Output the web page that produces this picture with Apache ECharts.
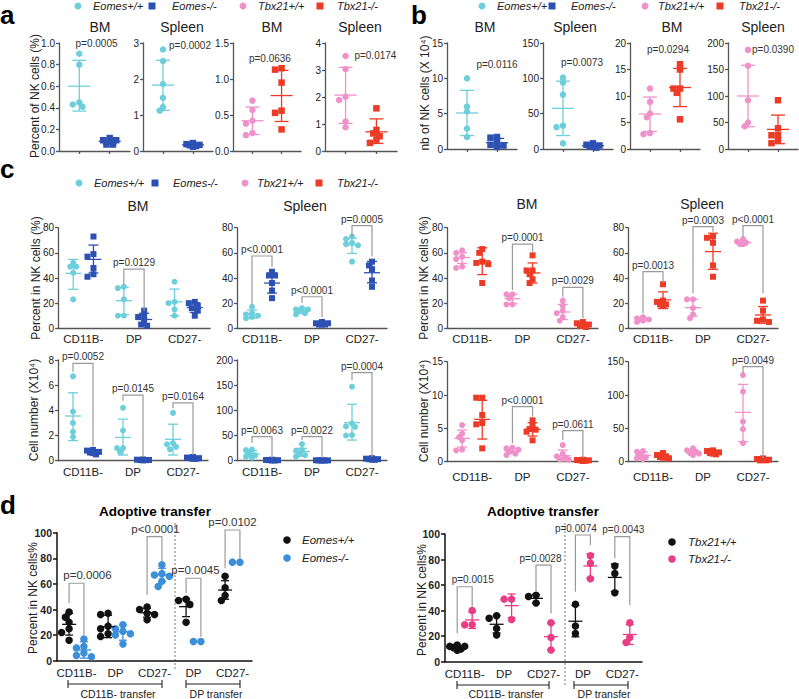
<!DOCTYPE html>
<html><head><meta charset="utf-8">
<script src="https://cdn.jsdelivr.net/npm/echarts@6/dist/echarts.min.js"></script>
<style>html,body{margin:0;padding:0;background:#fff}#c{width:799px;height:699px}</style>
</head><body><div id="c"></div>
<script>
// ---------------- DATA ----------------
// Panel a: Percent of NK cells (%)
const aBM_EomesWT = [0.90, 0.80, 0.45, 0.43, 0.41];
const aBM_EomesKO = [0.12, 0.10, 0.10, 0.09, 0.06, 0.06];
const aSp_EomesWT = [2.82, 2.50, 1.86, 1.48, 1.22, 1.12];
const aSp_EomesKO = [0.22, 0.19, 0.17, 0.16, 0.14, 0.12];
const aBM_TbxWT = [0.70, 0.57, 0.42, 0.38, 0.25, 0.22];
const aBM_TbxKO = [1.15, 1.13, 0.95, 0.56, 0.53, 0.30];
const aSp_TbxWT = [3.52, 3.03, 2.01, 1.89, 1.09, 0.88];
const aSp_TbxKO = [1.58, 0.78, 0.65, 0.55, 0.42, 0.30];
// mean, lower (mean-SD), upper (mean+SD)
const aBM_EomesWT_sd = [0.60, 0.37, 0.84];
const aBM_EomesKO_sd = [0.09, 0.065, 0.115];
const aSp_EomesWT_sd = [1.83, 1.13, 2.52];
const aSp_EomesKO_sd = [0.17, 0.135, 0.205];
const aBM_TbxWT_sd = [0.42, 0.23, 0.61];
const aBM_TbxKO_sd = [0.77, 0.41, 1.12];
const aSp_TbxWT_sd = [2.07, 1.02, 3.10];
const aSp_TbxKO_sd = [0.71, 0.28, 1.19];
const aPvalues = ['p=0.0005', 'p=0.0002', 'p=0.0636', 'p=0.0174'];

// Panel b: nb of NK cells (X 10^4)
const bBM_EomesWT = [10.0, 6.0, 5.3, 2.9, 1.7];
const bBM_EomesKO = [1.7, 1.6, 0.9, 0.6, 0.5, 0.3];
const bSp_EomesWT = [101, 94, 77, 33, 31, 8];
const bSp_EomesKO = [8, 6, 5, 4, 3, 2];
const bBM_TbxWT = [11.4, 8.9, 6.7, 6.0, 3.0, 2.8];
const bBM_TbxKO = [16.0, 15.0, 11.4, 11.4, 10.6, 5.6];
const bSp_TbxWT = [187, 157, 92, 50, 43];
const bSp_TbxKO = [92, 39, 26, 26, 17, 11];
const bBM_EomesWT_sd = [5.1, 1.9, 8.3];
const bBM_EomesKO_sd = [0.9, 0.35, 1.5];
const bSp_EomesWT_sd = [57.5, 19, 96];
const bSp_EomesKO_sd = [4.7, 2.5, 6.9];
const bBM_TbxWT_sd = [6.6, 3.3, 9.8];
const bBM_TbxKO_sd = [11.6, 8.0, 15.2];
const bSp_TbxWT_sd = [100, 42, 158];
const bSp_TbxKO_sd = [37, 10, 64];
const bPvalues = ['p=0.0116', 'p=0.0073', 'p=0.0294', 'p=0.0390'];

// Panel c
const cCategories = ['CD11B-', 'DP', 'CD27-'];
// Percent in NK cells (%), BM, Eomes
const cPctBM_EomesWT = [[52, 49, 49, 44, 23], [33, 32, 23, 10, 10], [37, 21, 20, 15, 10]];
const cPctBM_EomesKO = [[73, 59, 57, 48, 43, 41], [14, 10, 9, 6, 3, 2], [21, 20, 18, 16, 14, 10]];
const cPctBM_EomesWT_sd = [[43.7, 31, 54.8], [22, 11, 32.5], [21, 10, 31.2]];
const cPctBM_EomesKO_sd = [[54.8, 44, 66.2], [7, 2.7, 11.9], [16.5, 12.6, 20.4]];
const cPctBM_Eomes_br = [[1, 47.1, 34.4, 13.8]];
const cPctBM_Eomes_p = ['p=0.0129'];
// Percent, Spleen, Eomes
const cPctSp_EomesWT = [[17, 12, 11, 10, 9, 8], [16, 15, 15, 14, 12, 11], [73, 71, 68, 67, 66, 53]];
const cPctSp_EomesKO = [[45, 42, 42, 36, 30, 24], [5, 4, 4, 3, 3, 3], [53, 50, 47, 38, 33]];
const cPctSp_EomesWT_sd = [[11.2, 8, 14.5], [13.8, 11.8, 15.8], [66.3, 59.6, 71.5]];
const cPctSp_EomesKO_sd = [[36, 28, 44], [3.7, 2.9, 4.5], [44.2, 36.2, 53.2]];
const cPctSp_Eomes_br = [[0, 57.5, 18.5, 49], [1, 25.1, 20.1, 9], [2, 81.6, 72.8, 57]];
const cPctSp_Eomes_p = ['p<0.0001', 'p<0.0001', 'p=0.0005'];
// Percent, BM, Tbx21
const cPctBM_TbxWT = [[62, 60, 57, 55, 49, 48], [27, 27, 24, 19, 19], [22, 18, 14, 12, 9, 6]];
const cPctBM_TbxKO = [[63, 60, 53, 52, 51, 36], [58, 46, 46, 43, 39, 36], [5, 4, 3, 2, 2, 1]];
const cPctBM_TbxWT_sd = [[56.3, 51.6, 60.1], [23.5, 19.5, 27.2], [13, 7, 19]];
const cPctBM_TbxKO_sd = [[53.7, 42.7, 64], [44, 36, 52], [2.8, 1.3, 4.3]];
const cPctBM_Tbx_br = [[1, 67, 30.4, 60.9], [2, 32.6, 25.1, 8.2]];
const cPctBM_Tbx_p = ['p=0.0001', 'p=0.0029'];
// Percent, Spleen, Tbx21
const cPctSp_TbxWT = [[9, 8, 7, 7, 6, 5], [23, 23, 16, 11, 8], [71, 69, 68, 67, 67]];
const cPctSp_TbxKO = [[35, 22, 21, 19, 19, 18], [73, 72, 68, 50, 41], [22, 14, 7, 6, 5]];
const cPctSp_TbxWT_sd = [[7.2, 5.9, 8.6], [16.4, 9.6, 23], [68.3, 66.6, 70]];
const cPctSp_TbxKO_sd = [[22.6, 15.7, 29], [61, 46.9, 75.6], [10.6, 4, 17.3]];
const cPctSp_Tbx_br = [[0, 45, 12.2, 36.2], [1, 80.8, 27.8, 76.8], [2, 81.6, 72.8, 27.8]];
const cPctSp_Tbx_p = ['p=0.0013', 'p=0.0003', 'p<0.0001'];
// Cell number (X10^4), BM, Eomes
const cNumBM_EomesWT = [[6.7, 3.9, 3.0, 2.3, 1.9], [4.2, 2.4, 1.0, 1.0, 0.7], [3.8, 1.4, 1.3, 1.1, 0.9]];
const cNumBM_EomesKO = [[0.85, 0.8, 0.7, 0.65, 0.6, 0.5], [0.1, 0.08, 0.06, 0.05, 0.04, 0.03], [0.3, 0.25, 0.2, 0.2, 0.15, 0.15]];
const cNumBM_EomesWT_sd = [[3.55, 1.6, 5.4], [1.85, 0.45, 3.3], [1.7, 0.45, 2.9]];
const cNumBM_EomesKO_sd = [[0.68, 0.56, 0.8], [0.06, 0.035, 0.085], [0.21, 0.15, 0.27]];
const cNumBM_Eomes_br = [[0, 7.73, 7.06, 1.11], [1, 5.21, 4.76, 0.3], [2, 4.6, 4.16, 0.45]];
const cNumBM_Eomes_p = ['p=0.0052', 'p=0.0145', 'p=0.0164'];
// Cell number, Spleen, Eomes
const cNumSp_EomesWT = [[22, 21, 14, 11, 8, 6], [33, 21, 20, 13, 11, 8], [147, 74, 68, 67, 51, 50]];
const cNumSp_EomesKO = [[2, 1.5, 1, 1, 0.5, 0.5], [1, 0.8, 0.6, 0.5, 0.4, 0.3], [5, 4, 3, 3, 2, 2]];
const cNumSp_EomesWT_sd = [[13.3, 6.7, 20], [18, 9, 24.6], [75.5, 41, 112]];
const cNumSp_EomesKO_sd = [[1.1, 0.5, 1.7], [0.6, 0.35, 0.85], [3.2, 2.2, 4.2]];
const cNumSp_Eomes_br = [[0, 47.7, 35, 5.4], [1, 47.7, 41, 5.4], [2, 174.8, 160, 7.3]];
const cNumSp_Eomes_p = ['p=0.0063', 'p=0.0022', 'p=0.0004'];
// Cell number, BM, Tbx21
const cNumBM_TbxWT = [[5.5, 4.2, 3.7, 3.2, 1.8, 1.7], [2.1, 2.0, 1.8, 1.5, 1.2, 1.0], [2.5, 1.2, 0.8, 0.6, 0.4, 0.3]];
const cNumBM_TbxKO = [[9.6, 9.6, 7.0, 5.8, 5.6, 2.0], [6.2, 5.5, 4.9, 4.8, 4.5, 3.2], [0.3, 0.25, 0.2, 0.2, 0.15, 0.1]];
const cNumBM_TbxWT_sd = [[3.5, 2.2, 4.75], [1.6, 1.2, 2.0], [0.9, 0.1, 1.75]];
const cNumBM_TbxKO_sd = [[6.35, 3.4, 9.2], [4.85, 3.85, 5.85], [0.2, 0.12, 0.28]];
const cNumBM_Tbx_br = [[1, 8.25, 2.76, 6.75], [2, 4.65, 3.25, 0.55]];
const cNumBM_Tbx_p = ['p<0.0001', 'p=0.0611'];
// Cell number, Spleen, Tbx21
const cNumSp_TbxWT = [[16, 15, 10, 7, 5, 4], [20, 17, 15, 13, 12, 10], [130, 105, 60, 49, 28]];
const cNumSp_TbxKO = [[13, 10, 8, 7, 6, 5], [17, 16, 14, 13, 12, 11], [5, 4, 3, 2, 2]];
const cNumSp_TbxWT_sd = [[9.5, 4.5, 14.5], [14.5, 11, 18], [74, 30, 116]];
const cNumSp_TbxKO_sd = [[8.2, 5.3, 11], [13.8, 11.6, 16], [3.2, 1.9, 4.5]];
const cNumSp_Tbx_br = [[2, 142.5, 132.6, 5.5]];
const cNumSp_Tbx_p = ['p=0.0049'];

// Panel d: Adoptive transfer, Percent in NK cells%
const dCategories = ['CD11B-', 'DP', 'CD27-', 'DP', 'CD27-'];
const dTransferGroups = ['CD11B- transfer', 'DP transfer'];
const dEomesWT = [[38, 34, 30, 25, 22, 16], [37, 36, 27, 25, 21, 19], [42, 40, 37, 36, 32], [48, 47, 44, 30], [66, 57, 51, 47]];
const dEomesKO = [[17, 11, 10, 6, 4, 3], [28, 25, 23, 21, 20, 13], [75, 68, 67, 66, 62, 58], [15, 15], [77, 77]];
const dEomesWT_sd = [[28.4, 20, 37], [26.6, 18, 35.5], [37.5, 34, 41], [42.2, 34.4, 48.5], [55.2, 48, 62.5]];
const dEomesKO_sd = [[8.4, 2, 14.8], [22.6, 16, 28], [67, 61.7, 72.2], null, null];
const dEomes_br = [[0, 60.5, 44.8, 20], [2, 96.9, 51.3, 77.3], [3, 64.4, 52.7, 18.75], [4, 102.1, 72.2, 80]];
const dEomes_p = ['p=0.0006', 'p<0.0001', 'p=0.0045', 'p=0.0102'];
const dTbxWT = [[13, 12, 12, 11, 10, 9], [36, 34, 26, 21], [52, 51, 46], [45, 28, 22], [75, 69, 54]];
const dTbxKO = [[40, 29, 29], [49, 49, 33], [30.5, 19, 9.2], [83, 77, 65], [30.5, 19, 15]];
const dTbxWT_sd = [[11.5, 10, 13], [29.3, 22.5, 36], [49.6, 46, 52.5], [31.7, 19.5, 44], [66, 55, 76.5]];
const dTbxKO_sd = [[32.7, 26, 39], [43.9, 34.5, 53], [19.6, 9, 30], [75, 65.5, 84.5], [21.3, 13.5, 29]];
const dTbx_br = [[0, 58.7, 22.2, 43], [2, 75.7, 54.8, 37.9], [3, 99.2, 54.8, 91.4], [4, 97.9, 81, 44.4]];
const dTbx_p = ['p=0.0015', 'p=0.0028', 'p=0.0074', 'p=0.0043'];

// ---------------- STYLE / LAYOUT ----------------
const FONT = '"Liberation Sans", Arial, Helvetica, sans-serif';
const COL = {eWT: '#6ccfdb', eKO: '#2d51b3', tWT: '#ef92c9', tKO: '#ec3b26', black: '#111111', dBlue: '#3b8ed8', dPink: '#e93d85'};
const grids = [], xAxes = [], yAxes = [], series = [], graphics = [];

// compact scatter-dot placement (like a column scatter plot): points may partly overlap
function beeswarm(values, cx, pxX, pxY, d) {
  const order = values.map((v, i) => i).sort((a, b) => values[b] - values[a]);
  const cands = [0, -0.5, 0.5, -1, 1];
  const minD = d * 0.72;
  const placed = [], out = [];
  for (const i of order) {
    const y = values[i] * pxY;
    let best = 0, bestScore = -1;
    for (const k of cands) {
      const x = k * d;
      let dist = Infinity;
      placed.forEach(p => { dist = Math.min(dist, Math.hypot(p[0] - x, p[1] - y)); });
      if (dist >= minD) { best = x; bestScore = Infinity; break; }
      if (dist > bestScore + 0.3) { bestScore = dist; best = x; }
    }
    placed.push([best, y]);
    out[i] = [cx + best / pxX, values[i]];
  }
  return out;
}
function errRender(color, mw, cw, lw) {
  return function (params, api) {
    const x = api.value(0);
    const c = api.coord([x, api.value(1)]);
    const lo = api.coord([x, api.value(2)]);
    const hi = api.coord([x, api.value(3)]);
    const st = {stroke: color, lineWidth: lw};
    return {type: 'group', children: [
      {type: 'line', shape: {x1: c[0], y1: hi[1], x2: c[0], y2: lo[1]}, style: st},
      {type: 'line', shape: {x1: c[0] - cw, y1: hi[1], x2: c[0] + cw, y2: hi[1]}, style: st},
      {type: 'line', shape: {x1: c[0] - cw, y1: lo[1], x2: c[0] + cw, y2: lo[1]}, style: st},
      {type: 'line', shape: {x1: c[0] - mw, y1: c[1], x2: c[0] + mw, y2: c[1]}, style: st}
    ]};
  };
}
function txtStyle(text, size, o) {
  o = o || {};
  return {text: text, fill: o.color || '#222', fontSize: size, fontFamily: FONT,
    fontWeight: o.bold ? 'bold' : 'normal', fontStyle: o.italic ? 'italic' : 'normal',
    textAlign: o.align || 'center', align: o.align || 'center',
    textVerticalAlign: 'middle', verticalAlign: 'middle'};
}
function bracketRender(labels, font, gap, shifts) {
  return function (params, api) {
    const xl = api.value(0), xr = api.value(1);
    const pL = api.coord([xl, api.value(2)]), pR = api.coord([xr, api.value(2)]);
    const eL = api.coord([xl, api.value(3)]), eR = api.coord([xr, api.value(4)]);
    const dx = (shifts && shifts[params.dataIndex]) || 0;
    return {type: 'group', children: [
      {type: 'polyline', shape: {points: [eL, pL, pR, eR]}, style: {stroke: '#9a9a9a', lineWidth: 1.2, fill: 'none'}},
      {type: 'text', x: (pL[0] + pR[0]) / 2 + dx, y: pL[1] - gap, style: txtStyle(labels[params.dataIndex], font, {color: '#333'})}
    ]};
  };
}
function ptextRender(labels, font) {
  return function (params, api) {
    const p = api.coord([api.value(0), api.value(1)]);
    return {type: 'text', x: p[0], y: p[1], style: txtStyle(labels[params.dataIndex], font, {color: '#333'})};
  };
}

function addPlot(o) {
  const gi = grids.length;
  const ax = o.axis;
  grids.push({left: o.left, top: o.top, width: o.width, height: o.bottom - o.top});
  const lineSt = {color: ax.color, width: ax.width};
  const xA = {gridIndex: gi, type: 'value', min: 0, max: o.xmax,
    axisLine: {show: true, onZero: false, lineStyle: lineSt},
    axisTick: {show: false}, splitLine: {show: false}, axisLabel: {show: false}};
  if (o.xTicks) xA.axisTick = {show: true, customValues: o.xTicks, length: 3, lineStyle: lineSt};
  if (o.xLabels) {
    const pos = o.xLabels.map((_, i) => i + 0.5);
    xA.axisLabel = {show: true, customValues: pos, fontSize: o.xFont, color: '#222', fontFamily: FONT, margin: o.xMargin,
      formatter: v => { const k = pos.findIndex(p => Math.abs(p - v) < 1e-6); return k < 0 ? '' : o.xLabels[k]; }};
  }
  xAxes.push(xA);
  yAxes.push({gridIndex: gi, type: 'value', min: 0, max: o.ymax, interval: o.yint,
    axisLine: {show: true, onZero: false, lineStyle: lineSt},
    axisTick: {show: true, length: ax.tick, lineStyle: lineSt},
    axisLabel: {fontSize: ax.yFont, fontWeight: ax.yBold ? 'bold' : 'normal', color: '#222', fontFamily: FONT, margin: ax.yMargin,
      formatter: o.yfmt || (v => String(v))},
    splitLine: {show: false}});
  const pxX = o.width / o.xmax, pxY = (o.bottom - o.top) / o.ymax;
  o.groups.forEach(g => {
    const pts = [];
    g.values.forEach((vals, k) => pts.push(...beeswarm(vals, g.pos[k], pxX, pxY, o.msize)));
    series.push({type: 'scatter', name: g.name, xAxisIndex: gi, yAxisIndex: gi, symbol: g.symbol, symbolSize: o.msize,
      itemStyle: {color: g.color, opacity: 1}, data: pts, z: 2, silent: true, clip: false});
    const ed = [];
    g.stats.forEach((s, k) => { if (s) ed.push([g.pos[k], s[0], s[1], s[2]]); });
    series.push({type: 'custom', xAxisIndex: gi, yAxisIndex: gi, data: ed, z: 3, silent: true,
      renderItem: errRender(g.color, o.meanW, o.capW, 1.3)});
  });
  if (o.brackets) {
    const bd = o.brackets.map(b => [b[0] + 0.5 - o.off, b[0] + 0.5 + o.off, b[1], b[2], b[3]]);
    series.push({type: 'custom', xAxisIndex: gi, yAxisIndex: gi, data: bd, z: 4, silent: true,
      renderItem: bracketRender(o.pLabels, o.pFont, o.pGap, o.pShift)});
  }
  if (o.ptext) {
    series.push({type: 'custom', xAxisIndex: gi, yAxisIndex: gi, data: [o.ptext.at], z: 4, silent: true,
      renderItem: ptextRender([o.ptext.label], o.pFont)});
  }
}

const axAB = {color: '#555', width: 1.3, tick: 3, yFont: 10, yMargin: 4};
const axD = {color: '#111', width: 1.5, tick: 4, yFont: 10.5, yBold: true, yMargin: 5};
const f1 = v => v.toFixed(1);

function two(name1, col1, sym1, v1, s1, name2, col2, sym2, v2, s2) {
  return [
    {name: name1, color: col1, symbol: sym1, values: [v1], stats: [s1], pos: [2]},
    {name: name2, color: col2, symbol: sym2, values: [v2], stats: [s2], pos: [5]}
  ];
}
const abCommon = {xmax: 7, xTicks: [2, 5], axis: axAB, msize: 6.5, meanW: 11, capW: 7, pFont: 10};

// Panel a
addPlot(Object.assign({}, abCommon, {left: 59, top: 43, width: 71, bottom: 151, ymax: 1.0, yint: 0.2, yfmt: f1,
  groups: two('Eomes+/+', COL.eWT, 'circle', aBM_EomesWT, aBM_EomesWT_sd, 'Eomes-/-', COL.eKO, 'rect', aBM_EomesKO, aBM_EomesKO_sd),
  ptext: {at: [3.7, 1.0], label: aPvalues[0]}}));
addPlot(Object.assign({}, abCommon, {left: 143, top: 43, width: 70, bottom: 151, ymax: 3, yint: 1,
  groups: two('Eomes+/+', COL.eWT, 'circle', aSp_EomesWT, aSp_EomesWT_sd, 'Eomes-/-', COL.eKO, 'rect', aSp_EomesKO, aSp_EomesKO_sd),
  ptext: {at: [4.7, 2.94], label: aPvalues[1]}}));
addPlot(Object.assign({}, abCommon, {left: 233, top: 43, width: 68, bottom: 151, ymax: 1.5, yint: 0.5, yfmt: f1,
  groups: two('Tbx21+/+', COL.tWT, 'circle', aBM_TbxWT, aBM_TbxWT_sd, 'Tbx21-/-', COL.tKO, 'rect', aBM_TbxKO, aBM_TbxKO_sd),
  ptext: {at: [3.8, 1.29], label: aPvalues[2]}}));
addPlot(Object.assign({}, abCommon, {left: 325, top: 43, width: 72, bottom: 151, ymax: 4, yint: 1,
  groups: two('Tbx21+/+', COL.tWT, 'circle', aSp_TbxWT, aSp_TbxWT_sd, 'Tbx21-/-', COL.tKO, 'rect', aSp_TbxKO, aSp_TbxKO_sd),
  ptext: {at: [4.9, 3.52], label: aPvalues[3]}}));
// Panel b
addPlot(Object.assign({}, abCommon, {left: 447, top: 43, width: 70, bottom: 149, ymax: 15, yint: 5,
  groups: two('Eomes+/+', COL.eWT, 'circle', bBM_EomesWT, bBM_EomesWT_sd, 'Eomes-/-', COL.eKO, 'rect', bBM_EomesKO, bBM_EomesKO_sd),
  ptext: {at: [5.0, 11.9], label: bPvalues[0]}}));
addPlot(Object.assign({}, abCommon, {left: 543, top: 43, width: 70, bottom: 149, ymax: 150, yint: 50,
  groups: two('Eomes+/+', COL.eWT, 'circle', bSp_EomesWT, bSp_EomesWT_sd, 'Eomes-/-', COL.eKO, 'rect', bSp_EomesKO, bSp_EomesKO_sd),
  ptext: {at: [3.9, 121.7], label: bPvalues[1]}}));
addPlot(Object.assign({}, abCommon, {left: 630, top: 43, width: 70, bottom: 149, ymax: 20, yint: 5,
  groups: two('Tbx21+/+', COL.tWT, 'circle', bBM_TbxWT, bBM_TbxWT_sd, 'Tbx21-/-', COL.tKO, 'rect', bBM_TbxKO, bBM_TbxKO_sd),
  ptext: {at: [3.8, 18.7], label: bPvalues[2]}}));
addPlot(Object.assign({}, abCommon, {left: 728, top: 43, width: 70, bottom: 149, ymax: 200, yint: 50,
  groups: two('Tbx21+/+', COL.tWT, 'circle', bSp_TbxWT, bSp_TbxWT_sd, 'Tbx21-/-', COL.tKO, 'rect', bSp_TbxKO, bSp_TbxKO_sd),
  ptext: {at: [4.5, 187], label: bPvalues[3]}}));

// Panel c
const cCommon = {xmax: 3, xLabels: cCategories, xFont: 11.5, xMargin: 5, axis: axAB, msize: 6, meanW: 8, capW: 5, off: 0.2, pFont: 10, pGap: 6.5};
function cGroups(nW, cW, sW, vW, sdW, nK, cK, sK, vK, sdK) {
  return [
    {name: nW, color: cW, symbol: sW, values: vW, stats: sdW, pos: [0.3, 1.3, 2.3]},
    {name: nK, color: cK, symbol: sK, values: vK, stats: sdK, pos: [0.7, 1.7, 2.7]}
  ];
}
addPlot(Object.assign({}, cCommon, {left: 58, top: 227.7, width: 152, bottom: 328.3, ymax: 80, yint: 20,
  groups: cGroups('Eomes+/+', COL.eWT, 'circle', cPctBM_EomesWT, cPctBM_EomesWT_sd, 'Eomes-/-', COL.eKO, 'rect', cPctBM_EomesKO, cPctBM_EomesKO_sd),
  brackets: cPctBM_Eomes_br, pLabels: cPctBM_Eomes_p}));
addPlot(Object.assign({}, cCommon, {left: 237, top: 227.7, width: 150, bottom: 328.3, ymax: 80, yint: 20,
  groups: cGroups('Eomes+/+', COL.eWT, 'circle', cPctSp_EomesWT, cPctSp_EomesWT_sd, 'Eomes-/-', COL.eKO, 'rect', cPctSp_EomesKO, cPctSp_EomesKO_sd),
  brackets: cPctSp_Eomes_br, pLabels: cPctSp_Eomes_p}));
addPlot(Object.assign({}, cCommon, {left: 447, top: 227.7, width: 151, bottom: 328.3, ymax: 80, yint: 20,
  groups: cGroups('Tbx21+/+', COL.tWT, 'circle', cPctBM_TbxWT, cPctBM_TbxWT_sd, 'Tbx21-/-', COL.tKO, 'rect', cPctBM_TbxKO, cPctBM_TbxKO_sd),
  brackets: cPctBM_Tbx_br, pLabels: cPctBM_Tbx_p}));
addPlot(Object.assign({}, cCommon, {left: 628, top: 227.7, width: 150, bottom: 328.3, ymax: 80, yint: 20,
  groups: cGroups('Tbx21+/+', COL.tWT, 'circle', cPctSp_TbxWT, cPctSp_TbxWT_sd, 'Tbx21-/-', COL.tKO, 'rect', cPctSp_TbxKO, cPctSp_TbxKO_sd),
  brackets: cPctSp_Tbx_br, pLabels: cPctSp_Tbx_p}));
addPlot(Object.assign({}, cCommon, {left: 58, top: 360, width: 150, bottom: 460.7, ymax: 8, yint: 2,
  groups: cGroups('Eomes+/+', COL.eWT, 'circle', cNumBM_EomesWT, cNumBM_EomesWT_sd, 'Eomes-/-', COL.eKO, 'rect', cNumBM_EomesKO, cNumBM_EomesKO_sd),
  brackets: cNumBM_Eomes_br, pLabels: cNumBM_Eomes_p}));
addPlot(Object.assign({}, cCommon, {left: 237, top: 360, width: 150, bottom: 460.7, ymax: 200, yint: 50,
  groups: cGroups('Eomes+/+', COL.eWT, 'circle', cNumSp_EomesWT, cNumSp_EomesWT_sd, 'Eomes-/-', COL.eKO, 'rect', cNumSp_EomesKO, cNumSp_EomesKO_sd),
  brackets: cNumSp_Eomes_br, pLabels: cNumSp_Eomes_p}));
addPlot(Object.assign({}, cCommon, {left: 447, top: 361.7, width: 151, bottom: 461.7, ymax: 15, yint: 5, xMargin: 9,
  groups: cGroups('Tbx21+/+', COL.tWT, 'circle', cNumBM_TbxWT, cNumBM_TbxWT_sd, 'Tbx21-/-', COL.tKO, 'rect', cNumBM_TbxKO, cNumBM_TbxKO_sd),
  brackets: cNumBM_Tbx_br, pLabels: cNumBM_Tbx_p}));
addPlot(Object.assign({}, cCommon, {left: 628, top: 361.7, width: 150, bottom: 461.7, ymax: 150, yint: 50, xMargin: 9,
  groups: cGroups('Tbx21+/+', COL.tWT, 'circle', cNumSp_TbxWT, cNumSp_TbxWT_sd, 'Tbx21-/-', COL.tKO, 'rect', cNumSp_TbxKO, cNumSp_TbxKO_sd),
  brackets: cNumSp_Tbx_br, pLabels: cNumSp_Tbx_p}));

// Panel d
const dCommon = {xmax: 5, xLabels: dCategories, xFont: 11.5, xMargin: 6, axis: axD, msize: 7.5, meanW: 7, capW: 4, off: 0.19, pGap: 8, ymax: 100, yint: 20};
function dGroups(nW, cW, vW, sdW, nK, cK, vK, sdK) {
  return [
    {name: nW, color: cW, symbol: 'circle', values: vW, stats: sdW, pos: [0.31, 1.31, 2.31, 3.31, 4.31]},
    {name: nK, color: cK, symbol: 'circle', values: vK, stats: sdK, pos: [0.69, 1.69, 2.69, 3.69, 4.69]}
  ];
}
addPlot(Object.assign({}, dCommon, {left: 57, top: 532.7, width: 195, bottom: 660.7, pFont: 11.5, pShift: {0: 11, 1: 1, 2: 2},
  groups: dGroups('Eomes+/+', COL.black, dEomesWT, dEomesWT_sd, 'Eomes-/-', COL.dBlue, dEomesKO, dEomesKO_sd),
  brackets: dEomes_br, pLabels: dEomes_p}));
addPlot(Object.assign({}, dCommon, {left: 445, top: 534, width: 197, bottom: 661.7, pFont: 10, pGap: 7, pShift: {0: 8, 1: -3, 2: -7, 3: 1},
  groups: dGroups('Tbx21+/+', COL.black, dTbxWT, dTbxWT_sd, 'Tbx21-/-', COL.dPink, dTbxKO, dTbxKO_sd),
  brackets: dTbx_br, pLabels: dTbx_p}));

// ---------------- TEXT / DECORATION ----------------
function T(text, x, y, size, o) { o = o || {}; return {type: 'text', x: x, y: y, rotation: o.rot || 0, silent: true, style: txtStyle(text, size, o)}; }
// panel letters
graphics.push(T('a', 0, 15, 26, {bold: true, align: 'left', color: '#000'}));
graphics.push(T('b', 411, 15, 26, {bold: true, align: 'left', color: '#000'}));
graphics.push(T('c', 0, 169, 26, {bold: true, align: 'left', color: '#000'}));
graphics.push(T('d', 0, 505, 26, {bold: true, align: 'left', color: '#000'}));
// legends
function legend(items, y) {
  items.forEach(it => {
    if (it.sym === 'rect') graphics.push({type: 'rect', silent: true, shape: {x: it.x - 3.5, y: y - 3.5, width: 7, height: 7}, style: {fill: it.color}});
    else graphics.push({type: 'circle', silent: true, shape: {cx: it.x, cy: y, r: it.r || 3.5}, style: {fill: it.color}});
    graphics.push(T(it.label, it.tx, y, it.size || 11, {italic: true, align: 'left'}));
  });
}
function legend4(xs, y) {
  legend([
    {x: xs[0], tx: xs[1], color: COL.eWT, sym: 'circle', label: 'Eomes+/+'},
    {x: xs[2], tx: xs[3], color: COL.eKO, sym: 'rect', label: 'Eomes-/-'},
    {x: xs[4], tx: xs[5], color: COL.tWT, sym: 'circle', label: 'Tbx21+/+'},
    {x: xs[6], tx: xs[7], color: COL.tKO, sym: 'rect', label: 'Tbx21-/-'}
  ], y);
}
legend4([78, 93, 152, 172, 243, 258, 320, 337], 6);
legend4([482, 497, 552, 571, 645, 658, 720, 739], 6);
legend4([79, 94, 155, 173, 245, 257, 319, 337], 183);
legend([{x: 287, tx: 302, color: COL.black, label: 'Eomes+/+', r: 3.8, size: 11.5}], 540);
legend([{x: 287, tx: 302, color: COL.dBlue, label: 'Eomes-/-', r: 3.8, size: 11.5}], 558);
legend([{x: 672, tx: 688, color: COL.black, label: 'Tbx21+/+', r: 3.8, size: 11.5}], 542);
legend([{x: 672, tx: 688, color: COL.dPink, label: 'Tbx21-/-', r: 3.8, size: 11.5}], 559);
// sub-titles
[['BM', 100, 27], ['Spleen', 182, 27], ['BM', 272, 27], ['Spleen', 360, 27],
 ['BM', 485, 27], ['Spleen', 575, 27], ['BM', 672, 27], ['Spleen', 763, 27],
 ['BM', 138, 206], ['Spleen', 305, 206], ['BM', 527, 204], ['Spleen', 702, 204]]
  .forEach(t => graphics.push(T(t[0], t[1], t[2], 14)));
graphics.push(T('Adoptive transfer', 155, 511, 13.5, {bold: true, color: '#000'}));
graphics.push(T('Adoptive transfer', 543, 511, 13.5, {bold: true, color: '#000'}));
// y-axis titles
const R = Math.PI / 2;
graphics.push(T('Percent of NK cells (%)', 35, 96, 12, {rot: R}));
graphics.push(T('nb of NK cells (X 10\u2074)', 425, 93, 12, {rot: R}));
graphics.push(T('Percent in NK cells (%)', 36, 278, 12, {rot: R}));
graphics.push(T('Cell number (X10\u2074)', 34, 410, 12, {rot: R}));
graphics.push(T('Percent in NK cells (%)', 424, 278, 12, {rot: R}));
graphics.push(T('Cell number (X10\u2074)', 424, 411, 12, {rot: R}));
graphics.push(T('Percent in NK cells%', 33, 598, 12, {rot: R}));
graphics.push(T('Percent in NK cells%', 422, 600, 12, {rot: R}));
// d decorations: divider and transfer brackets
function dDecor(divX, y1, y2, b1, b2, by, ty) {
  graphics.push({type: 'line', silent: true, shape: {x1: divX, y1: y1, x2: divX, y2: y2}, style: {stroke: '#777', lineWidth: 1, lineDash: [2, 2]}});
  [[b1, dTransferGroups[0]], [b2, dTransferGroups[1]]].forEach(b => {
    const st = {stroke: '#222', lineWidth: 1.1};
    graphics.push({type: 'line', silent: true, shape: {x1: b[0][0], y1: by, x2: b[0][1], y2: by}, style: st});
    graphics.push({type: 'line', silent: true, shape: {x1: b[0][0], y1: by - 4, x2: b[0][0], y2: by + 4}, style: st});
    graphics.push({type: 'line', silent: true, shape: {x1: b[0][1], y1: by - 4, x2: b[0][1], y2: by + 4}, style: st});
    graphics.push(T(b[1], (b[0][0] + b[0][1]) / 2 + 3, ty, 10.5));
  });
}
dDecor(175, 523, 670, [68, 162], [186, 240], 684, 693.5);
dDecor(565, 523, 687, [457, 549], [574, 628], 685, 693.5);

const chart = echarts.init(document.getElementById('c'), null, {renderer: 'svg', width: 799, height: 699});
chart.setOption({
  animation: false,
  backgroundColor: '#ffffff',
  textStyle: {fontFamily: FONT},
  grid: grids, xAxis: xAxes, yAxis: yAxes, series: series, graphic: {elements: graphics}
});
</script></body></html>
